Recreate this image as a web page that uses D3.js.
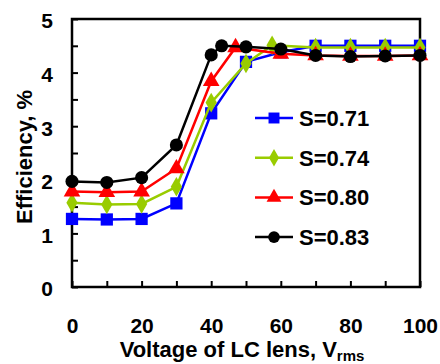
<!DOCTYPE html>
<html>
<head>
<meta charset="utf-8">
<script src="https://cdn.jsdelivr.net/npm/d3@7"></script>
<style>
  body { margin: 0; background: #fff; }
  text { font-family: "Liberation Sans", Arial, sans-serif; font-weight: bold; }
  .line { fill: none; stroke-width: 2.5; }
</style>
</head>
<body>
<svg id="effSvg" width="440" height="364"></svg>
<script>
// series
var seriesNames = ['S=0.71', 'S=0.74', 'S=0.80', 'S=0.83'];
var x071 = [0, 10, 20, 30, 40, 50, 60, 70, 80, 90, 100];
var y071 = [1.27, 1.26, 1.27, 1.56, 3.24, 4.20, 4.38, 4.50, 4.50, 4.50, 4.50];
var x074 = [0, 10, 20, 30, 40, 50, 57.5, 70, 80, 90, 100];
var y074 = [1.57, 1.54, 1.55, 1.87, 3.44, 4.17, 4.51, 4.47, 4.47, 4.47, 4.47];
var x080 = [0, 10, 20, 30, 40, 47, 60, 70, 80, 90, 100];
var y080 = [1.78, 1.77, 1.78, 2.21, 3.84, 4.47, 4.35, 4.32, 4.31, 4.31, 4.32];
var x083 = [0, 10, 20, 30, 40, 43, 50, 60, 70, 80, 90, 100];
var y083 = [1.97, 1.95, 2.04, 2.65, 4.33, 4.50, 4.48, 4.44, 4.32, 4.30, 4.31, 4.32];
var xTicks = [0, 10, 20, 30, 40, 50, 60, 70, 80, 90, 100];
var xLabels = [0, 20, 40, 60, 80, 100];
var yTicks = [0, 0.5, 1, 1.5, 2, 2.5, 3, 3.5, 4, 4.5, 5];
var yLabels = [0, 1, 2, 3, 4, 5];

var colors = ['#0000FF', '#99CC00', '#FF0000', '#000000'];
var symbols = [d3.symbolSquare, d3.symbolDiamond, d3.symbolTriangle, d3.symbolCircle];
var symSize = [150, 110, 120, 135];

var margin = { top: 19, right: 20, bottom: 77, left: 72 },
    svg = d3.select('#effSvg'),
    width = +svg.attr('width') - margin.left - margin.right,
    height = +svg.attr('height') - margin.top - margin.bottom;
var g = svg.append('g')
  .attr('transform', 'translate(' + margin.left + ',' + margin.top + ')');

var x = d3.scaleLinear().domain([0, 100]).range([0, width]),
    y = d3.scaleLinear().domain([0, 5]).range([height, 0]);

var trends = [
  { name: seriesNames[0], xs: x071, ys: y071 },
  { name: seriesNames[1], xs: x074, ys: y074 },
  { name: seriesNames[2], xs: x080, ys: y080 },
  { name: seriesNames[3], xs: x083, ys: y083 }
].map(function(s, i) {
  return {
    name: s.name, color: colors[i], symbol: symbols[i], size: symSize[i],
    values: s.xs.map(function(v, j) { return { v: v, eff: s.ys[j] }; })
  };
});

var line = d3.line()
  .x(function(d) { return x(d.v); })
  .y(function(d) { return y(d.eff); });

// axes with inside ticks
var yAxis = g.append('g')
  .call(d3.axisLeft(y).tickValues(yTicks).tickSizeInner(-6).tickSizeOuter(0).tickPadding(19)
    .tickFormat(function(d) { return yLabels.indexOf(d) >= 0 ? d : ''; }));
var xAxis = g.append('g')
  .attr('transform', 'translate(0,' + height + ')')
  .call(d3.axisBottom(x).tickValues(xTicks).tickSizeInner(-6).tickSizeOuter(0).tickPadding(31)
    .tickFormat(function(d) { return xLabels.indexOf(d) >= 0 ? d : ''; }));

[xAxis, yAxis].forEach(function(a) {
  a.selectAll('.domain').remove();
  a.selectAll('line').attr('stroke', '#000').attr('stroke-width', 2);
  a.selectAll('text').attr('fill', '#000').style('font-size', '21px')
    .style('font-family', '"Liberation Sans", Arial, sans-serif').style('font-weight', 'bold');
});
yAxis.selectAll('text').attr('dy', '0.42em');

// frame
g.append('rect')
  .attr('width', width)
  .attr('height', height)
  .attr('fill', 'none')
  .attr('stroke', '#000')
  .attr('stroke-width', 2.5);

// lines + markers
var trend = g.selectAll('.trend')
  .data(trends)
  .enter()
  .append('g')
  .attr('class', 'trend');

trend.append('path')
  .attr('class', 'line')
  .attr('d', function(d) { return line(d.values); })
  .style('stroke', function(d) { return d.color; });

trend.selectAll('path.pt')
  .data(function(d) { return d.values.map(function(v) { return { v: v.v, eff: v.eff, s: d }; }); })
  .enter()
  .append('path')
  .attr('class', 'pt')
  .attr('transform', function(d) { return 'translate(' + x(d.v) + ',' + y(d.eff) + ')'; })
  .attr('d', function(d) { return d3.symbol().type(d.s.symbol).size(d.s.size)(); })
  .style('fill', function(d) { return d.s.color; });

// legend
var legend = svg.selectAll('.legend')
  .data(trends)
  .enter()
  .append('g')
  .attr('class', 'legend')
  .attr('transform', function(d, i) { return 'translate(255,' + (118 + i * 39.7) + ')'; });

legend.append('line')
  .attr('x1', 0).attr('x2', 38)
  .attr('stroke', function(d) { return d.color; })
  .attr('stroke-width', 2.5);

legend.append('path')
  .attr('transform', 'translate(19,0)')
  .attr('d', function(d) { return d3.symbol().type(d.symbol).size(d.size * 0.8)(); })
  .style('fill', function(d) { return d.color; });

legend.append('text')
  .attr('x', 44)
  .attr('y', 8)
  .style('font-size', '22px')
  .text(function(d) { return d.name; });

// axis titles
svg.append('text')
  .attr('x', 242)
  .attr('y', 357)
  .attr('text-anchor', 'middle')
  .style('font-size', '22px')
  .text('Voltage of LC lens, V')
  .append('tspan')
  .attr('dy', 4)
  .style('font-size', '15px')
  .text('rms');

svg.append('text')
  .attr('transform', 'translate(32,157) rotate(-90)')
  .attr('text-anchor', 'middle')
  .style('font-size', '22px')
  .text('Efficiency, %');
</script>
</body>
</html>
